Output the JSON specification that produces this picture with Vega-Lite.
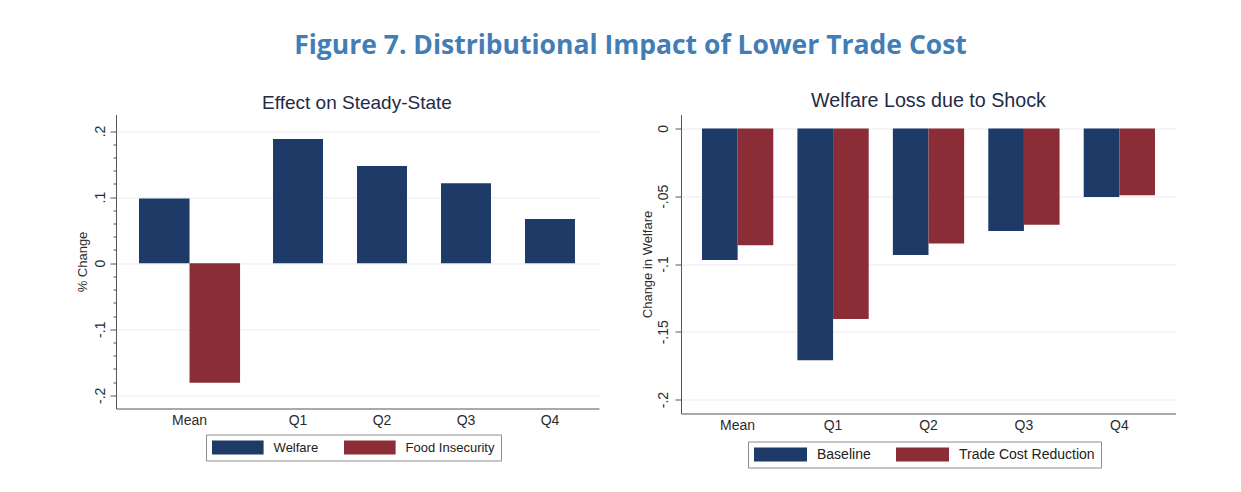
{
  "$schema": "https://vega.github.io/schema/vega-lite/v6.json",
  "background": "white",
  "padding": {"left": 76, "top": 32.5, "right": 0, "bottom": 0},
  "title": {
    "text": "Figure 7. Distributional Impact of Lower Trade Cost",
    "font": "Open Sans",
    "fontSize": 26.5,
    "fontWeight": "bold",
    "color": "#427db5",
    "anchor": "middle",
    "dx": 4.5,
    "offset": 31.2
  },
  "datasets": {
    "steady": [
      {"group": "Mean", "series": "Welfare", "value": 0.098},
      {"group": "Mean", "series": "Food Insecurity", "value": -0.181},
      {"group": "Q1", "series": "Welfare", "value": 0.188},
      {"group": "Q2", "series": "Welfare", "value": 0.147},
      {"group": "Q3", "series": "Welfare", "value": 0.121},
      {"group": "Q4", "series": "Welfare", "value": 0.0667}
    ],
    "shock": [
      {"group": "Mean", "series": "Baseline", "value": -0.097},
      {"group": "Mean", "series": "Trade Cost Reduction", "value": -0.0861},
      {"group": "Q1", "series": "Baseline", "value": -0.171},
      {"group": "Q1", "series": "Trade Cost Reduction", "value": -0.1405},
      {"group": "Q2", "series": "Baseline", "value": -0.0933},
      {"group": "Q2", "series": "Trade Cost Reduction", "value": -0.0849},
      {"group": "Q3", "series": "Baseline", "value": -0.0756},
      {"group": "Q3", "series": "Trade Cost Reduction", "value": -0.0711},
      {"group": "Q4", "series": "Baseline", "value": -0.0505},
      {"group": "Q4", "series": "Trade Cost Reduction", "value": -0.0492}
    ]
  },
  "spacing": 42,
  "resolve": {"scale": {"color": "independent", "xOffset": "independent"}},
  "hconcat": [
    {
      "title": {"text": "Effect on Steady-State", "fontSize": 19, "offset": 2, "anchor": "middle", "dx": 19.5},
      "spacing": 0,
      "resolve": {"scale": {"xOffset": "independent"}},
      "hconcat": [
        {
          "data": {"name": "steady"},
          "transform": [{"filter": "datum.group == 'Mean'"}],
          "width": 133,
          "height": 294,
          "mark": {"type": "bar"},
          "encoding": {
            "x": {
              "field": "group",
              "type": "nominal",
              "scale": {"paddingInner": 0, "paddingOuter": 0.158, "align": 0.72},
              "axis": {"title": null, "labelAngle": 0, "ticks": false, "labelPadding": 5}
            },
            "xOffset": {
              "field": "series",
              "type": "nominal",
              "scale": {"domain": ["Welfare", "Food Insecurity"], "paddingInner": 0, "paddingOuter": 0}
            },
            "y": {
              "field": "value",
              "type": "quantitative",
              "scale": {"domain": [-0.22, 0.225], "nice": false},
              "axis": {
                "title": "% Change",
                "values": [-0.2, -0.18, -0.16, -0.14, -0.12, -0.1, -0.08, -0.06, -0.04, -0.02, 0, 0.02, 0.04, 0.06, 0.08, 0.1, 0.12, 0.14, 0.16, 0.18, 0.2],
                "labelExpr": "abs(datum.value*10 - round(datum.value*10)) < 0.000001 ? (datum.value == 0 ? '0' : (datum.value < 0 ? '-' : '') + replace(format(abs(datum.value), '~g'), '0.', '.')) : ''",
                "tickSize": {"condition": {"test": "abs(datum.value*10 - round(datum.value*10)) < 0.000001", "value": 6}, "value": 3},
                "gridOpacity": {"condition": {"test": "abs(datum.value*10 - round(datum.value*10)) < 0.000001", "value": 1}, "value": 0},
                "labelAngle": 270,
                "labelPadding": 3,
                "titlePadding": 4,
                "grid": true
              }
            },
            "color": {
              "field": "series",
              "type": "nominal",
              "scale": {"domain": ["Welfare", "Food Insecurity"], "range": ["#1d3b66", "#8a2d36"]},
              "legend": {
                "orient": "none",
                "legendX": 90,
                "legendY": 320,
                "direction": "horizontal",
                "title": null,
                "symbolType": "M-3.686,-1H3.686V1H-3.686Z",
                "symbolSize": 196,
                "symbolOffset": 18.8,
                "symbolStrokeWidth": 0,
                "labelFontSize": 13,
                "labelOffset": 28.8,
                "columnPadding": 24,
                "padding": 6,
                "strokeColor": "#8c8c8c",
                "fillColor": "white"
              }
            }
          }
        },
        {
          "data": {"name": "steady"},
          "transform": [{"filter": "datum.group != 'Mean'"}],
          "width": 350,
          "height": 294,
          "mark": {"type": "bar"},
          "encoding": {
            "x": {
              "field": "group",
              "type": "nominal",
              "scale": {"paddingInner": 0.405, "paddingOuter": 0.286},
              "axis": {"title": null, "labelAngle": 0, "ticks": false, "labelPadding": 5}
            },
            "y": {
              "field": "value",
              "type": "quantitative",
              "scale": {"domain": [-0.22, 0.225], "nice": false},
              "axis": {
                "title": null,
                "values": [-0.2, -0.1, 0, 0.1, 0.2],
                "labels": false,
                "ticks": false,
                "domain": false,
                "grid": true
              }
            },
            "color": {
              "field": "series",
              "type": "nominal",
              "scale": {"domain": ["Welfare", "Food Insecurity"], "range": ["#1d3b66", "#8a2d36"]}
            }
          }
        }
      ]
    },
    {
      "title": {"text": "Welfare Loss due to Shock", "fontSize": 19.7, "offset": 4.3, "anchor": "middle"},
      "data": {"name": "shock"},
      "width": 495,
      "height": 299,
      "mark": {"type": "bar"},
      "encoding": {
        "x": {
          "field": "group",
          "type": "nominal",
          "scale": {"paddingInner": 0.253, "paddingOuter": 0.22},
          "axis": {"title": null, "labelAngle": 0, "ticks": false, "labelPadding": 5}
        },
        "xOffset": {
          "field": "series",
          "type": "nominal",
          "scale": {"domain": ["Baseline", "Trade Cost Reduction"], "paddingInner": 0, "paddingOuter": 0}
        },
        "y": {
          "field": "value",
          "type": "quantitative",
          "scale": {"domain": [-0.2103, 0.0103], "nice": false},
          "axis": {
            "title": "Change in Welfare",
            "values": [0, -0.05, -0.1, -0.15, -0.2],
            "labelExpr": "datum.value == 0 ? '0' : '-' + replace(format(abs(datum.value), '~g'), '0.', '.')",
            "labelAngle": 270,
            "tickSize": 6,
            "labelPadding": 5,
            "titlePadding": 2,
            "grid": true
          }
        },
        "color": {
          "field": "series",
          "type": "nominal",
          "scale": {"domain": ["Baseline", "Trade Cost Reduction"], "range": ["#1d3b66", "#8a2d36"]},
          "legend": {
            "orient": "none",
            "legendX": 67,
            "legendY": 327,
            "direction": "horizontal",
            "title": null,
            "symbolType": "M-3.786,-1H3.786V1H-3.786Z",
            "symbolSize": 196,
            "symbolOffset": 19.5,
            "symbolStrokeWidth": 0,
            "labelFontSize": 14,
            "labelOffset": 29.5,
            "columnPadding": 24,
            "padding": 6,
            "strokeColor": "#8c8c8c",
            "fillColor": "white"
          }
        }
      }
    }
  ],
  "config": {
    "view": {"stroke": null},
    "font": "Liberation Sans",
    "axis": {
      "labelFont": "Liberation Sans",
      "titleFont": "Liberation Sans",
      "labelColor": "#2b2b2b",
      "titleColor": "#2b2b2b",
      "domainColor": "#555555",
      "tickColor": "#555555",
      "gridColor": "#e8ebef",
      "labelFontSize": 14,
      "titleFontSize": 13,
      "titleFontWeight": "normal"
    },
    "legend": {"labelFont": "Liberation Sans", "labelColor": "#222222"},
    "title": {"font": "Liberation Sans", "fontWeight": "normal", "color": "#1f2a48"}
  }
}
